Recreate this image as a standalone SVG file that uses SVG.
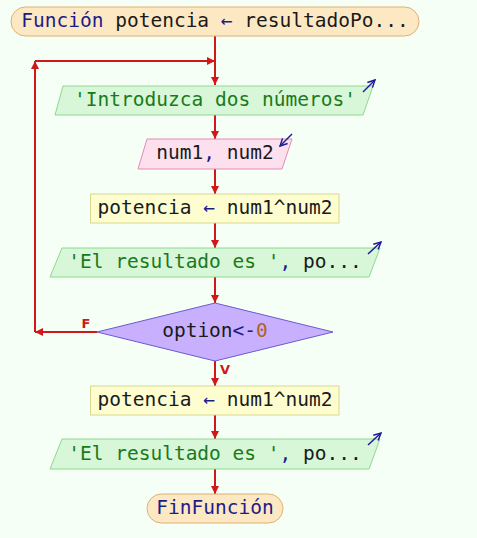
<svg xmlns="http://www.w3.org/2000/svg" width="477" height="538" viewBox="0 0 477 538">
<defs>
<style>
text{font-family:"DejaVu Sans Mono","Liberation Mono",monospace;font-size:19.5px;text-anchor:middle}
.k{fill:#1c1c8a}.b{fill:#1a1a1a}.s{fill:#1a7a1a}.n{fill:#b0602a}
.term{fill:#fde8c4;stroke:#e0b070;stroke-width:1}
.out{fill:#d8f6d8;stroke:#8ed88e;stroke-width:1}
.in{fill:#fde0ee;stroke:#e48ab6;stroke-width:1}
.proc{fill:#fefdd0;stroke:#d8d890;stroke-width:1}
.dec{fill:#c8b0fe;stroke:#6a5ad0;stroke-width:1}
.ico{stroke:#1c1c9a;stroke-width:1.5;fill:none}
.c{stroke:#d01818;stroke-width:2;fill:none}
.lbl{font-family:"DejaVu Sans","Liberation Sans",sans-serif;font-size:13px;font-weight:bold;fill:#d01818}
</style>
<marker id="ah" viewBox="0 0 10 10" refX="10" refY="5" markerWidth="4" markerHeight="4" markerUnits="strokeWidth" orient="auto">
<path d="M0,0 L10,5 L0,10 z" fill="#d01818"/>
</marker>
<marker id="ih" viewBox="0 0 10 10" refX="9" refY="5" markerWidth="6" markerHeight="6" markerUnits="strokeWidth" orient="auto">
<path d="M1,1 L9,5 L1,9" fill="none" stroke="#1c1c9a" stroke-width="1.6"/>
</marker>
</defs>
<rect width="477" height="538" fill="#f5fff5"/>
<g id="connectors">
<path class="c" d="M215,36 V85" marker-end="url(#ah)"/>
<path class="c" d="M215,115 V139" marker-end="url(#ah)"/>
<path class="c" d="M215,169 V194" marker-end="url(#ah)"/>
<path class="c" d="M215,223 V248" marker-end="url(#ah)"/>
<path class="c" d="M215,277 V303" marker-end="url(#ah)"/>
<path class="c" d="M97,332 H35" marker-end="url(#ah)"/>
<path class="c" d="M35,332 V61" marker-end="url(#ah)"/>
<path class="c" d="M35,61 H215" marker-end="url(#ah)"/>
<path class="c" d="M215,361 V386" marker-end="url(#ah)"/>
<path class="c" d="M215,415 V439" marker-end="url(#ah)"/>
<path class="c" d="M215,469 V494" marker-end="url(#ah)"/>
<text class="lbl" x="86" y="328">F</text>
<text class="lbl" x="225" y="374">V</text>
</g>
<g id="start">
<rect class="term" x="11" y="7" width="408" height="29" rx="14.5"/>
<text x="215" y="27"><tspan class="k">Función</tspan><tspan class="b"> potencia </tspan><tspan class="k">←</tspan><tspan class="b"> resultadoPo...</tspan></text>
</g>
<g id="out1">
<polygon class="out" points="63,86 373,86 363,115 55,115"/>
<text class="s" x="215" y="106">'Introduzca dos números'</text>
<path class="ico" d="M363,92 L375,80" marker-end="url(#ih)"/>
</g>
<g id="in1">
<polygon class="in" points="147,139 292,139 282,169 138,169"/>
<text x="215" y="159"><tspan class="b">num1</tspan><tspan class="k">,</tspan><tspan class="b"> num2</tspan></text>
<path class="ico" d="M292,134 L280,146" marker-end="url(#ih)"/>
</g>
<g id="proc1">
<rect class="proc" x="90.5" y="194" width="248.5" height="29"/>
<text x="215" y="214"><tspan class="b">potencia </tspan><tspan class="k">←</tspan><tspan class="b"> num1^num2</tspan></text>
</g>
<g id="out2">
<polygon class="out" points="62,248 380,248 369,277 50,277"/>
<text x="215" y="268"><tspan class="s">'El resultado es '</tspan><tspan class="k">,</tspan><tspan class="b"> po...</tspan></text>
<path class="ico" d="M368,254 L381,242" marker-end="url(#ih)"/>
</g>
<g id="dec">
<polygon class="dec" points="215,303 333,332 215,361 97,332"/>
<text x="215" y="337"><tspan class="b">option</tspan><tspan class="k">&lt;-</tspan><tspan class="n">0</tspan></text>
</g>
<g id="proc2">
<rect class="proc" x="90.5" y="386" width="248.5" height="29"/>
<text x="215" y="406"><tspan class="b">potencia </tspan><tspan class="k">←</tspan><tspan class="b"> num1^num2</tspan></text>
</g>
<g id="out3">
<polygon class="out" points="62,439 380,439 369,469 50,469"/>
<text x="215" y="460"><tspan class="s">'El resultado es '</tspan><tspan class="k">,</tspan><tspan class="b"> po...</tspan></text>
<path class="ico" d="M368,445 L381,433" marker-end="url(#ih)"/>
</g>
<g id="end">
<rect class="term" x="147" y="494" width="136" height="29" rx="14.5"/>
<text class="k" x="215" y="514">FinFunción</text>
</g>
</svg>
